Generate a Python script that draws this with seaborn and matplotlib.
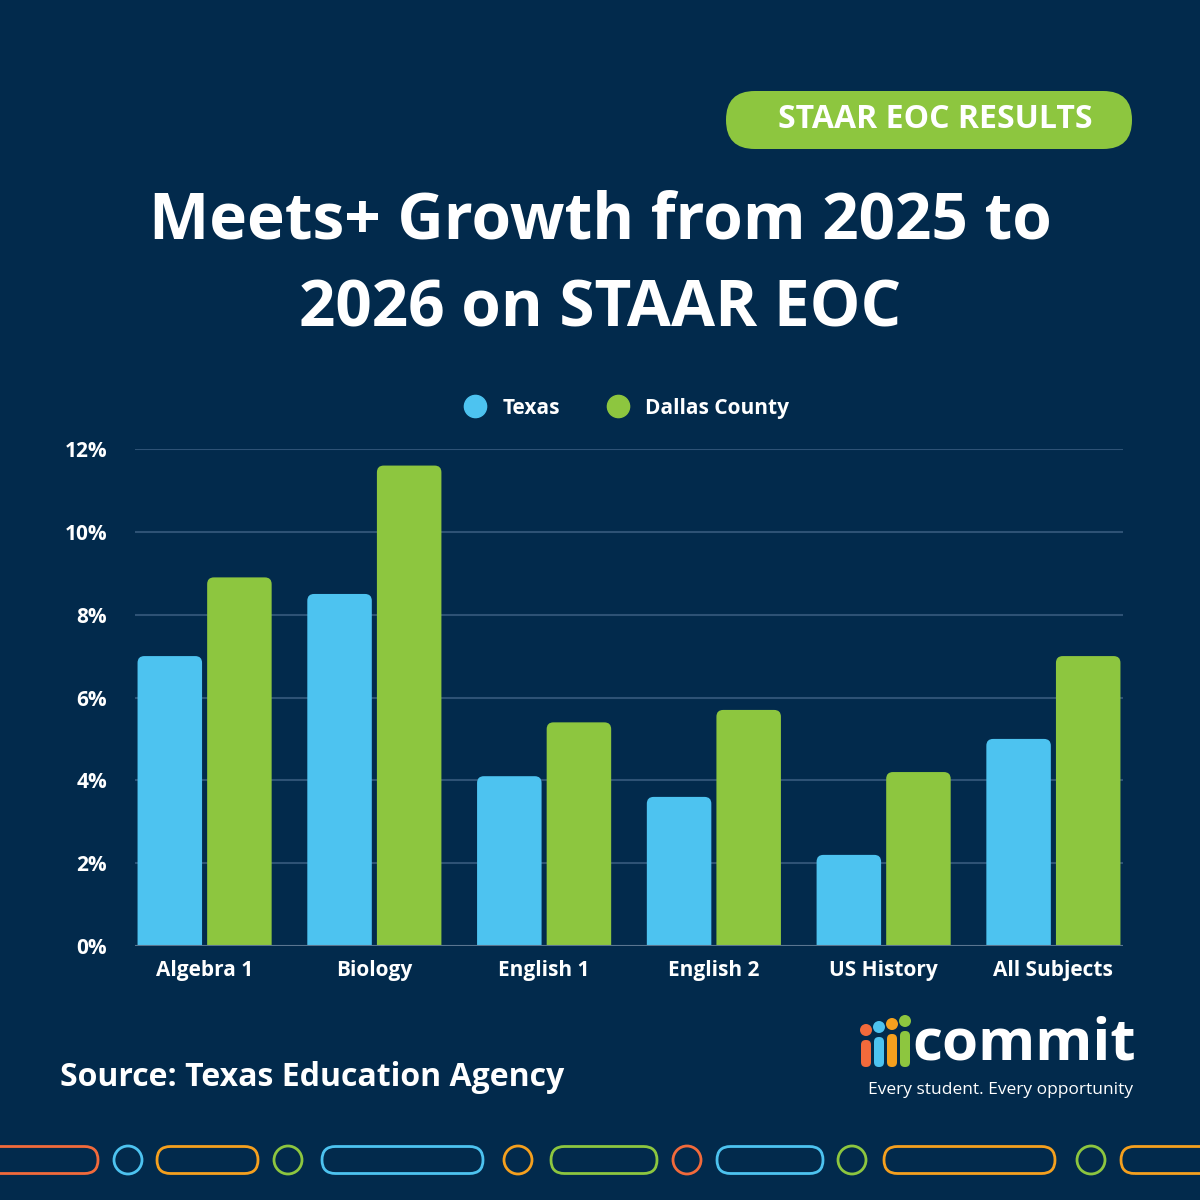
import matplotlib
matplotlib.use("Agg")
import matplotlib.pyplot as plt
import seaborn as sns
import pandas as pd
from matplotlib.patches import FancyBboxPatch, Ellipse
from matplotlib.lines import Line2D

subjects = ["Algebra 1", "Biology", "English 1", "English 2", "US History", "All Subjects"]
texas = [7.0, 8.5, 4.1, 3.6, 2.2, 5.0]
dallas = [8.9, 11.6, 5.4, 5.7, 4.2, 7.0]
yticks = [0, 2, 4, 6, 8, 10, 12]
ytick_labels = ["0%", "2%", "4%", "6%", "8%", "10%", "12%"]

BG = "#022a4c"
BLUE = "#4dc3f0"
GREEN = "#8dc63f"
ORANGE = "#f5a01e"
RED = "#f26a3b"

sns.set_theme(style="white")
plt.rcParams["font.family"] = ["Open Sans", "DejaVu Sans"]

df = pd.DataFrame({"Subject": subjects * 2,
                   "Value": texas + dallas,
                   "Region": ["Texas"] * 6 + ["Dallas County"] * 6})

fig = plt.figure(figsize=(12, 12), dpi=100, facecolor=BG)
ax = fig.add_axes([135/1200, 254/1200, 988/1200, 497/1200])
ax.set_facecolor(BG)
sns.barplot(data=df, x="Subject", y="Value", hue="Region", palette=[BLUE, GREEN],
            width=0.82, ax=ax, legend=False, saturation=1, zorder=3, linewidth=0)
ax.set_xlim(-0.41, 5.41)
ax.set_ylim(0, 12)
aspect = (12 / 497) / (5.82 / 988)
gap = 0.015
for p in list(ax.patches):
    x, y0, w, hgt = p.get_x(), p.get_y(), p.get_width(), p.get_height()
    fc = p.get_facecolor()
    p.set_visible(False)
    fb = FancyBboxPatch((x + gap, y0 - 0.3), w - 2 * gap, hgt + 0.3,
                        boxstyle="round,pad=0,rounding_size=0.04", mutation_aspect=aspect,
                        facecolor=fc, edgecolor="none", zorder=3, clip_on=True)
    ax.add_patch(fb)
ax.set_yticks(yticks)
ax.set_yticklabels(ytick_labels)
ax.grid(axis="y", color="#2e5275", linewidth=1.5, zorder=0)
for s in ax.spines.values():
    s.set_visible(False)
ax.axhline(0, color="#5a7590", linewidth=1.5, zorder=4)
ax.tick_params(axis="both", length=0, colors="white", labelsize=15)
ax.tick_params(axis="y", pad=20)
ax.tick_params(axis="x", pad=10)
for t in ax.get_xticklabels() + ax.get_yticklabels():
    t.set_fontweight("bold")
    t.set_color("white")
ax.set_xlabel("")
ax.set_ylabel("")

handles = [Line2D([], [], marker="o", linestyle="", markersize=16, color=BLUE, label="Texas"),
           Line2D([], [], marker="o", linestyle="", markersize=16, color=GREEN, label="Dallas County")]
leg = fig.legend(handles=handles, loc="center", bbox_to_anchor=(622/1200, 1 - 408/1200), ncol=2,
                 frameon=False, handletextpad=0.3, columnspacing=1.8,
                 prop={"weight": "bold", "size": 15})
for t in leg.get_texts():
    t.set_color("white")

fig.patches.append(FancyBboxPatch((726/1200, 1 - 149/1200), 406/1200, 58/1200,
                                  boxstyle="round,pad=0,rounding_size=0.024",
                                  transform=fig.transFigure, facecolor=GREEN, edgecolor="none"))
fig.text(935/1200, 1 - 120/1200, "STAAR EOC RESULTS", ha="center", va="center",
         color="white", fontsize=23, fontweight="bold")

fig.text(600/1200, 1 - 222/1200, "Meets+ Growth from 2025 to", ha="center", va="center",
         color="white", fontsize=46, fontweight="bold")
fig.text(600/1200, 1 - 310/1200, "2026 on STAAR EOC", ha="center", va="center",
         color="white", fontsize=46, fontweight="bold")

fig.text(60/1200, 1 - 1078/1200, "Source: Texas Education Agency", ha="left", va="center",
         color="white", fontsize=23, fontweight="bold")

for i, c in enumerate([RED, BLUE, ORANGE, GREEN]):
    x = 866 + i * 13
    top = 1040 - i * 3
    fig.patches.append(FancyBboxPatch(((x - 5)/1200, 1 - 1067/1200), 10/1200, (1067 - top)/1200,
                                      boxstyle="round,pad=0,rounding_size=0.004",
                                      transform=fig.transFigure, facecolor=c, edgecolor="none"))
    fig.patches.append(Ellipse((x/1200, 1 - (top - 10)/1200), 12/1200, 12/1200,
                               transform=fig.transFigure, facecolor=c, edgecolor="none"))
fig.text(1136/1200, 1 - 1045/1200, "commit", ha="right", va="center", color="white",
         fontsize=42, fontweight="bold")
fig.text(1133/1200, 1 - 1090/1200, "Every student. Every opportunity", ha="right", va="center",
         color="white", fontsize=12.5)

yc = 1160
h = 27
pills = [(-20, 98, RED), (157, 258, ORANGE), (322, 483, BLUE), (551, 657, GREEN),
         (717, 823, BLUE), (884, 1055, ORANGE), (1121, 1240, ORANGE)]
for x0, x1, c in pills:
    fig.patches.append(FancyBboxPatch((x0/1200, 1 - (yc + h/2)/1200), (x1 - x0)/1200, h/1200,
                                      boxstyle="round,pad=0,rounding_size=0.0112",
                                      transform=fig.transFigure, facecolor="none",
                                      edgecolor=c, linewidth=2))
circles = [(128, BLUE), (288, GREEN), (518, ORANGE), (687, RED), (852, GREEN), (1091, GREEN)]
for x, c in circles:
    fig.patches.append(Ellipse((x/1200, 1 - yc/1200), 28/1200, 28/1200,
                               transform=fig.transFigure, facecolor="none",
                               edgecolor=c, linewidth=2))

fig.savefig("out.png", dpi=100, facecolor=BG)
